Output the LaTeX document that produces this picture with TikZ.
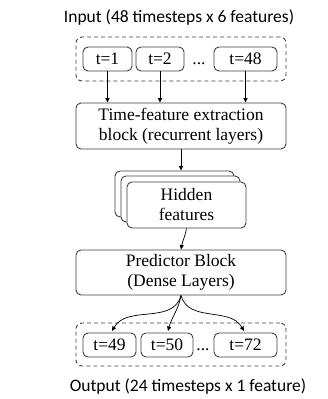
\documentclass[tikz,border=0pt]{standalone}
\usepackage{fontspec}
\setmainfont{Liberation Serif}
\newfontfamily\titlefont{Carlito}
\usetikzlibrary{arrows.meta}
\definecolor{linecol}{HTML}{404040}
\tikzset{
  rbox/.style={draw=linecol, line width=0.9pt, rounded corners=5pt, align=center, inner sep=0pt,
    font=\fontsize{17.5}{20}\selectfont, text=black},
  dashbox/.style={draw=linecol, line width=0.9pt, dashed, dash pattern=on 4pt off 3pt, rounded corners=6pt, inner sep=0pt},
  titletext/.style={font=\titlefont\fontsize{17.5}{20}\selectfont, inner sep=0pt, text=black},
  dotstext/.style={font=\fontsize{17.5}{20}\selectfont, inner sep=0pt, anchor=base},
  arr/.style={draw=black, line width=0.7pt, -{Triangle[length=4.5pt,width=4pt]}}
}
\begin{document}
\begin{tikzpicture}[x=1pt,y=-1pt]
\useasboundingbox (0,0) rectangle (327,399);
% input
\node[titletext] (intitle) at (179,18) {Input (48 timesteps x 6 features)};
\node[dashbox, minimum width=210pt, minimum height=44pt] (inbox) at (181,59) {};
\node[rbox, minimum width=49pt, minimum height=24pt] (t1) at (107.5,59) {t=1};
\node[rbox, minimum width=48pt, minimum height=24pt] (t2) at (160,59) {t=2};
\node[dotstext] (indots) at (199,64) {...};
\node[rbox, minimum width=63pt, minimum height=24pt] (t48) at (245.5,59) {t=48};
% time-feature block
\node[rbox, minimum width=210pt, minimum height=46pt] (tfe) at (181,126) {Time-feature extraction\\block (recurrent layers)};
% hidden stack
\node[rbox, fill=white, minimum width=119pt, minimum height=46pt] (hb) at (174.5,194) {};
\node[rbox, fill=white, minimum width=119pt, minimum height=46pt] (hm) at (180.5,199) {};
\node[rbox, fill=white, minimum width=119pt, minimum height=46pt] (hf) at (186.5,205) {Hidden\\features};
% predictor
\node[rbox, minimum width=210pt, minimum height=45pt] (pred) at (181,272.5) {Predictor Block\\(Dense Layers)};
% output
\node[dashbox, minimum width=210pt, minimum height=43pt] (outbox) at (181,344.5) {};
\node[rbox, minimum width=53pt, minimum height=24pt] (t49) at (109.5,345) {t=49};
\node[rbox, minimum width=52pt, minimum height=24pt] (t50) at (167,345) {t=50};
\node[dotstext] (outdots) at (203,350) {...};
\node[rbox, minimum width=63pt, minimum height=24pt] (t72) at (245.5,345) {t=72};
\node[titletext] (outtitle) at (188,387) {Output (24 timesteps x 1 feature)};
% connectors
\draw[arr] (t1.south) -- (t1.south |- tfe.north);
\draw[arr] (t2.south) -- (t2.south |- tfe.north);
\draw[arr] (t48.south) -- (t48.south |- tfe.north);
\draw[arr] (tfe.south) -- (tfe.south |- hb.north);
\draw[arr] (hf.south) to[out=-100,in=80] (pred.north);
\coordinate (e49) at (112,331);
\coordinate (e50) at (168,331);
\coordinate (e72) at (244,331);
\draw[arr] (pred.south) to[out=-105,in=60] (e49);
\draw[arr] (pred.south) to[out=-100,in=75] (e50);
\draw[arr] (pred.south) to[out=-75,in=120] (e72);
\end{tikzpicture}
\end{document}
